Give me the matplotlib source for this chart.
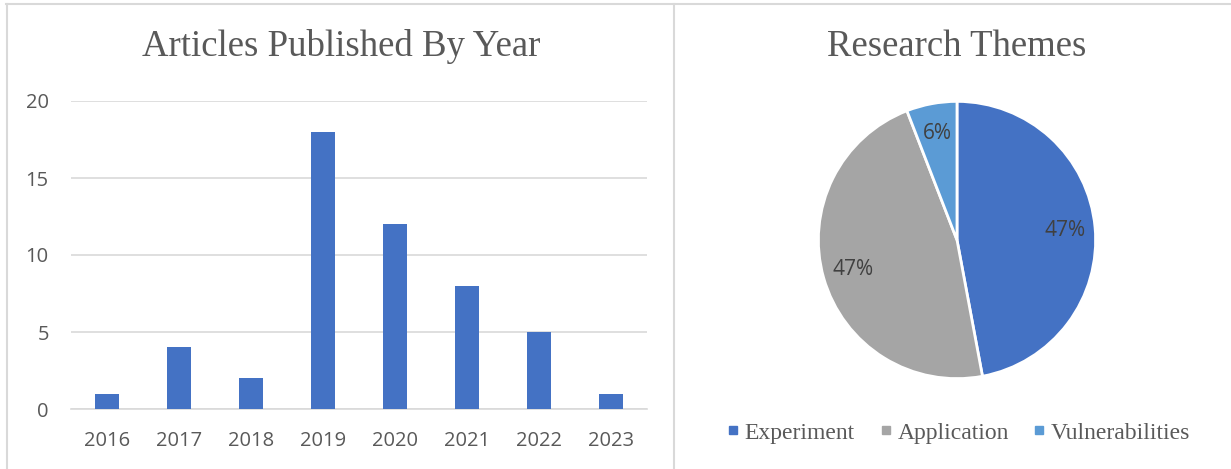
import matplotlib.pyplot as plt
from matplotlib.lines import Line2D

# data
years = ["2016", "2017", "2018", "2019", "2020", "2021", "2022", "2023"]
articles = [1, 4, 2, 18, 12, 8, 5, 1]
yticks = [0, 5, 10, 15, 20]

themes = ["Experiment", "Application", "Vulnerabilities"]
theme_counts = [24, 24, 3]
theme_colors = ["#4472c4", "#a5a5a5", "#5b9bd5"]

W, H = 1231, 469
fig = plt.figure(figsize=(W / 100, H / 100), dpi=100)

SERIF = "Liberation Serif"
SANS = "Open Sans"
GRID = "#d9d9d9"
TXT = "#595959"

# panel borders
border = dict(color=GRID, lw=1.5, transform=fig.transFigure)
fig.add_artist(Line2D([6 / W, 1], [1 - 4 / H, 1 - 4 / H], **border))
fig.add_artist(Line2D([7 / W, 7 / W], [0, 1 - 4 / H], **border))
fig.add_artist(Line2D([674 / W, 674 / W], [0, 1 - 4 / H], **border))

# bar chart
ax = fig.add_axes([71 / W, (H - 409) / H, 576 / W, 308 / H])
x = range(len(years))
ax.bar(x, articles, width=0.32, color="#4472c4", zorder=3)
ax.set_xlim(-0.5, len(years) - 0.5)
ax.set_ylim(0, 20)
ax.set_yticks(yticks)
ax.set_xticks(list(x))
ax.set_xticklabels(years)
ax.grid(True, axis="y", color=GRID, lw=1.2, zorder=0)
for s in ("top", "right", "left"):
    ax.spines[s].set_visible(False)
ax.spines["bottom"].set_color(GRID)
ax.spines["bottom"].set_linewidth(1.2)
ax.tick_params(axis="both", length=0, labelcolor=TXT, labelsize=14.5)
ax.tick_params(axis="y", pad=16)
ax.tick_params(axis="x", pad=16)
for lab in ax.get_xticklabels() + ax.get_yticklabels():
    lab.set_fontfamily(SANS)
fig.text(341 / W, 1 - 47 / H, "Articles Published By Year", family=SERIF,
         fontsize=26.5, color=TXT, ha="center", va="center")

# pie chart
pax = fig.add_axes([(957 - 140) / W, (H - 380) / H, 280 / W, 280 / H])
wedges, _, autotexts = pax.pie(
    theme_counts, colors=theme_colors, startangle=90, counterclock=False,
    autopct="%1.0f%%", pctdistance=0.78, radius=1,
    wedgeprops=dict(edgecolor="white", linewidth=2),
    textprops=dict(color="#404040", fontsize=15, family=SANS))
pax.set_xlim(-1.01, 1.01)
pax.set_ylim(-1.01, 1.01)
pax.set_aspect("equal")
pax.axis("off")
fig.text(957 / W, 1 - 47 / H, "Research Themes", family=SERIF,
         fontsize=26.5, color=TXT, ha="center", va="center")

handles = [Line2D([], [], marker="s", ls="", markersize=6, color=c) for c in theme_colors]
leg = fig.legend(handles, themes, loc="center", bbox_to_anchor=(957 / W, 1 - 433 / H),
                 ncol=3, frameon=False, handletextpad=0.1, columnspacing=0.9,
                 handlelength=0.8, prop=dict(family=SERIF, size=17))
for t in leg.get_texts():
    t.set_color(TXT)

fig.savefig("out.png", dpi=100)
